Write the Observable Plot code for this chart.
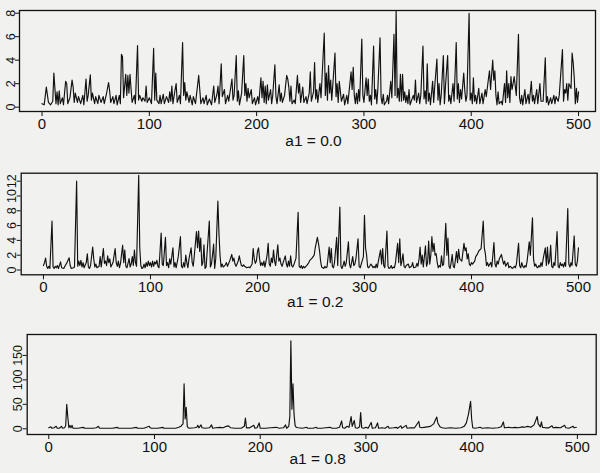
<!DOCTYPE html>
<html>
<head>
<meta charset="utf-8">
<script src="https://cdn.jsdelivr.net/npm/d3@7"></script>
<script src="https://cdn.jsdelivr.net/npm/@observablehq/plot@0.6"></script>
<style>
  html, body { margin: 0; padding: 0; background: #f1f1f0; }
  #chart { width: 600px; height: 473px; overflow: hidden; }
  #chart svg { display: block; background: transparent; }
</style>
</head>
<body>
<div id="chart"></div>
<script>
// ---- data: [t, value] ----
const titles = ["a1 = 0.0", "a1 = 0.2", "a1 = 0.8"];
const xTicks = [0, 100, 200, 300, 400, 500];
const yTicks1 = [0, 2, 4, 6, 8];
const yTicks2 = [0, 2, 4, 6, 8, 10, 12];
const yTicks3 = [0, 50, 100, 150];

const series1 = [[0,0.3],[2,0.2],[4,1.7],[6,0.4],[8,0.2],[10,0.5],[11,2.9],[13,0.3],[14,1.3],[15,0.2],[16,1.4],[17,0.3],[19,0.8],[20,0.2],[22,2.2],[23,2.0],[24,0.3],[26,0.8],[28,2.3],[29,1.7],[30,0.4],[31,1.2],[33,0.4],[34,0.9],[36,0.3],[38,1.0],[39,0.2],[41,2.4],[42,0.5],[43,1.0],[45,2.75],[46,0.6],[47,1.2],[49,0.3],[50,0.9],[52,0.3],[53,1.0],[55,0.4],[57,0.9],[58,0.3],[60,1.1],[62,2.1],[63,1.4],[64,0.4],[66,0.9],[67,0.3],[69,1.0],[70,0.2],[72,1.0],[73,0.3],[74,4.5],[75,4.3],[76,0.8],
[78,2.8],[79,1.0],[80,2.7],[81,1.2],[82,2.8],[83,1.5],[84,0.4],[86,1.0],[87,0.3],[89,5.25],[90,0.6],[91,1.0],[93,0.5],[94,0.8],[96,0.5],[97,1.8],[98,0.4],[100,0.8],[102,0.3],[104,5.0],[105,0.6],[106,2.9],[107,0.6],[109,0.3],[110,1.0],[111,0.3],[113,1.1],[114,0.3],[116,0.9],[118,0.4],[119,1.3],[120,0.5],[121,1.8],[122,0.3],[124,1.5],[125,2.0],[126,0.4],[128,1.0],[129,0.3],[131,5.5],[132,1.0],[133,2.1],[134,0.6],[135,1.3],[137,0.4],[138,1.0],[140,0.2],[141,0.9],[143,0.3],
[146,2.7],[148,0.3],[150,0.8],[151,0.3],[153,1.0],[154,0.2],[156,0.7],[158,0.2],[160,1.8],[161,0.4],[163,1.1],[164,1.8],[165,0.3],[167,3.7],[168,0.9],[170,1.5],[171,0.3],[173,1.0],[174,0.5],[177,2.4],[178,0.6],[179,1.0],[181,4.4],[182,0.5],[183,1.4],[184,0.2],[186,1.2],[188,4.4],[189,1.0],[190,2.0],[191,0.5],[192,1.6],[193,0.8],[195,1.5],[196,0.3],[198,0.8],[199,0.2],[201,0.9],[202,0.3],[204,2.5],[205,0.8],[206,2.2],[207,0.4],[208,1.8],[209,0.3],[210,1.9],[211,0.6],
[213,1.5],[214,0.3],[215,1.0],[217,3.6],[218,0.9],[219,0.3],[221,1.9],[222,0.5],[223,1.2],[224,0.4],[226,1.0],[228,2.7],[229,2.4],[230,1.7],[231,0.5],[232,1.8],[233,0.3],[235,0.6],[236,0.3],[238,2.7],[239,1.2],[240,2.0],[241,0.4],[243,1.7],[244,0.4],[246,0.9],[247,0.3],[249,1.2],[250,3.0],[251,0.5],[253,1.3],[254,3.8],[255,0.7],[256,1.5],[257,0.4],[259,2.0],[260,0.8],[263,6.3],[264,1.0],[265,2.9],[266,0.6],[267,3.55],[268,1.2],[269,2.3],[270,0.6],[271,1.9],[273,4.6],[274,0.9],[275,2.0],[276,0.4],[277,2.2],
[279,0.5],[281,1.1],[282,0.2],[284,1.0],[285,0.3],[287,2.1],[288,3.0],[289,1.5],[290,3.4],[291,1.0],[292,0.3],[293,1.2],[294,0.3],[295,1.5],[296,0.5],[298,5.8],[299,1.0],[300,0.4],[302,2.5],[303,1.0],[304,2.4],[305,0.5],[306,1.0],[307,0.2],[309,5.2],[310,0.7],[311,1.5],[312,0.3],[313,1.6],[315,5.9],[316,0.8],[317,0.3],[318,1.1],[319,0.2],[321,0.5],[322,1.0],[323,0.3],[325,2.2],[326,0.8],[328,6.2],[329,1.0],[330,8.2],[331,0.8],[332,1.6],[333,0.5],[334,2.8],[335,0.5],[336,2.8],[337,0.6],[338,1.3],[339,0.4],[340,1.0],[341,0.3],[342,1.5],[343,0.2],
[346,1.0],[347,0.6],[348,2.3],[349,0.4],[351,1.2],[352,0.3],[353,1.0],[355,5.2],[356,0.7],[357,1.4],[358,0.3],[359,3.7],[360,0.5],[361,1.2],[362,0.2],[364,2.2],[365,0.4],[366,1.8],[368,4.1],[369,0.6],[370,2.0],[371,0.2],[372,1.0],[374,4.4],[375,0.3],[376,1.8],[378,4.4],[379,0.5],[380,1.0],[381,0.3],[383,2.0],[384,0.5],[386,5.5],[387,0.7],[388,2.0],[389,0.4],[390,1.5],[391,0.7],[393,2.9],[394,1.4],[395,0.5],[396,1.0],[398,8.0],[399,0.6],[400,1.2],[401,0.3],[402,2.5],[403,0.5],[404,1.0],[405,0.3],[407,1.6],[408,0.3],[410,1.2],
[411,0.3],[413,1.5],[414,0.9],[416,2.4],[417,3.1],[418,1.5],[420,4.0],[421,2.3],[422,3.1],[423,1.0],[424,0.2],[425,1.3],[426,0.3],[428,0.5],[429,0.2],[431,2.0],[432,0.4],[433,3.1],[434,0.8],[435,2.0],[436,0.4],[437,2.6],[438,1.5],[439,2.0],[440,2.6],[442,1.0],[444,6.2],[445,0.8],[446,0.3],[447,1.0],[448,0.2],[450,1.5],[451,0.3],[453,1.1],[454,0.3],[456,2.2],[457,0.5],[458,1.0],[459,0.3],[461,1.5],[462,0.3],[464,2.0],[465,0.5],[467,0.5],[469,4.2],[470,0.4],[471,0.9],[472,0.2],[474,0.8],[475,0.3],[477,1.0],
[478,0.3],[479,0.9],[481,0.5],[482,1.0],[485,4.9],[486,0.5],[487,1.5],[488,1.2],[489,2.0],[490,0.6],[491,2.0],[492,1.8],[493,1.6],[494,4.6],[495,3.8],[496,2.5],[497,0.3],[498,1.6],[499,0.4],[500,1.3]];

const series2 = [[0,0.6],[1,1.0],[2,1.6],[3,0.5],[4,0.2],[5,0.5],[6,0.2],[8,6.6],[9,0.4],[10,0.2],[11,0.5],[12,0.3],[13,0.6],[14,0.2],[16,1.1],[17,0.3],[19,0.2],[20,0.5],[22,1.0],[24,1.65],[25,0.6],[26,0.2],[28,0.3],[29,0.4],[31,12.0],[32,0.5],[33,1.2],[34,0.6],[35,1.3],[36,0.4],[37,1.0],[38,0.3],[40,1.0],[41,2.2],[42,0.4],[43,0.2],[44,0.6],[46,3.1],[47,1.5],[48,0.4],[49,0.8],[50,0.3],[52,0.5],[53,1.8],[54,0.4],[56,2.9],[57,0.9],[58,1.2],[59,0.6],[60,1.9],[61,1.0],[62,1.5],[63,0.4],[65,1.0],[67,2.9],[68,1.0],[69,0.5],[70,1.2],[71,0.3],[72,0.9],[74,3.35],[75,1.0],[76,2.7],[77,0.5],[78,0.3],[79,0.9],[80,1.55],[81,0.4],[82,0.8],[83,1.8],[84,0.6],[85,2.7],[86,1.0],[87,0.5],[89,12.8],[90,3.0],[91,0.6],[92,0.2],[93,0.3],[94,0.8],[95,0.3],[96,1.0],[97,0.5],[98,1.2],[99,0.6],[100,1.0],[101,0.4],[102,1.2],[103,0.5],[104,1.1],[105,0.8],[106,1.3],[107,0.5],[108,0.3],[110,5.0],[111,0.8],[112,0.6],[114,4.4],[115,0.6],[116,1.0],[117,0.3],[118,1.5],[119,0.8],[121,3.0],[122,0.4],[123,1.0],[124,0.3],[126,1.8],[128,4.5],[129,0.5],[130,0.3],[131,1.0],[132,0.4],[133,2.0],[134,1.0],[135,0.3],[136,1.5],[138,3.0],[139,1.0],[140,0.5],[141,2.0],[143,5.2],[144,3.0],[145,5.25],[146,2.5],[147,4.3],[148,0.6],[149,1.0],[150,3.4],[151,0.2],[152,0.4],[153,2.5],[155,6.6],[156,0.4],[157,0.8],[158,2.0],[159,3.5],[160,0.2],[161,1.5],[163,9.3],[164,5.0],[165,2.0],[166,0.4],[167,0.8],[168,0.4],[170,0.7],[171,1.0],[172,0.5],[174,1.2],[176,2.1],[177,1.2],[178,1.6],[179,0.8],[180,0.5],[182,1.2],[183,1.9],[184,1.2],[185,0.6],[186,0.5],[187,0.7],[188,0.5],[190,0.3],[192,0.4],[193,0.3],[195,0.8],[196,2.9],[197,1.5],[198,0.9],[199,1.2],[200,2.5],[201,3.0],[202,1.5],[203,0.6],[204,1.0],[205,0.6],[206,1.2],[207,0.4],[209,2.0],[210,3.6],[211,0.8],[212,0.5],[213,1.6],[214,1.0],[215,2.7],[216,1.2],[217,0.6],[219,3.4],[220,1.2],[221,1.6],[222,0.8],[223,0.5],[224,1.0],[226,1.9],[227,0.8],[228,0.4],[229,1.2],[230,0.5],[231,1.9],[232,0.6],[233,0.4],[234,0.7],[236,1.6],[238,7.8],[239,0.5],[240,0.3],[241,0.6],[242,0.2],[243,0.5],[244,0.3],[246,0.6],[247,0.8],[248,1.0],[249,1.3],[251,1.6],[253,2.0],[254,3.0],[256,4.4],[257,3.6],[258,2.6],[259,1.2],[260,0.4],[261,0.3],[262,0.2],[263,0.5],[264,0.3],[265,0.4],[267,3.1],[268,1.0],[269,2.9],[270,0.5],[271,0.3],[272,1.0],[274,4.4],[275,0.6],[277,8.5],[278,0.5],[279,0.2],[280,0.6],[281,1.2],[282,0.5],[283,1.0],[285,3.8],[286,0.8],[287,0.3],[288,1.0],[289,1.8],[290,0.6],[291,0.8],[292,1.5],[294,4.2],[295,0.5],[296,0.3],[297,0.8],[299,1.8],[300,7.4],[301,3.0],[302,2.0],[303,0.4],[304,0.3],[306,0.8],[307,0.6],[308,0.3],[309,0.5],[310,0.3],[311,0.8],[312,0.3],[313,1.2],[315,2.7],[316,0.8],[317,2.9],[318,0.6],[319,0.3],[321,5.25],[322,0.5],[323,0.2],[324,0.3],[325,0.6],[326,0.2],[327,0.4],[328,0.3],[329,1.0],[331,3.6],[332,1.0],[333,4.2],[334,0.6],[335,1.2],[336,2.2],[337,0.5],[338,0.3],[339,0.6],[341,0.8],[342,0.3],[344,0.5],[345,1.0],[346,0.3],[348,0.4],[349,0.9],[350,0.5],[351,1.5],[352,3.1],[353,0.8],[354,2.0],[355,0.4],[357,3.25],[358,0.5],[359,1.0],[360,3.9],[361,0.8],[362,2.0],[363,4.5],[364,2.5],[365,3.6],[366,2.0],[367,2.2],[368,1.0],[369,0.3],[370,0.6],[371,0.4],[372,1.9],[373,0.6],[374,0.8],[376,6.3],[377,2.0],[378,4.3],[379,0.5],[380,0.2],[381,1.0],[382,2.1],[383,0.5],[384,0.3],[386,2.5],[387,1.0],[388,2.8],[389,1.5],[391,1.2],[393,3.6],[394,2.6],[395,3.0],[396,1.5],[397,2.2],[398,0.8],[399,0.6],[400,1.0],[401,0.8],[403,1.2],[404,1.8],[405,2.0],[406,2.3],[407,2.6],[409,2.9],[411,6.6],[412,3.0],[413,2.2],[414,0.6],[415,1.0],[416,0.5],[418,1.0],[419,0.4],[421,3.7],[422,0.8],[423,0.4],[424,1.2],[425,0.8],[426,1.5],[428,2.1],[429,1.4],[430,0.8],[431,1.2],[432,0.5],[433,0.8],[434,1.0],[435,0.3],[436,0.5],[437,0.4],[438,0.2],[439,0.3],[440,0.5],[441,0.3],[442,0.8],[444,3.6],[445,0.6],[446,0.3],[447,1.0],[448,0.5],[449,0.3],[450,0.6],[451,0.4],[452,1.2],[454,3.8],[455,2.0],[457,7.05],[458,1.5],[459,0.5],[460,0.8],[461,0.4],[462,0.3],[463,0.6],[464,0.4],[465,1.0],[466,0.5],[467,1.5],[469,3.0],[470,0.6],[471,3.1],[472,0.8],[473,1.2],[474,3.35],[475,0.5],[476,0.3],[477,1.0],[478,0.6],[480,5.2],[481,0.5],[482,0.3],[483,1.0],[484,0.6],[485,0.8],[486,0.4],[487,1.0],[488,0.5],[490,8.3],[491,0.8],[492,0.4],[493,1.0],[494,0.6],[496,4.6],[497,0.8],[498,0.5],[499,1.2],[500,3.0]];

const series3 = [[0,2],[2,4],[3,1],[5,2],[7,5],[8,1],[10,1],[12,5],[13,1],[15,2],[16,6],[17,50],[18,24],[19,2],[20,7],[21,2],[22,7],[23,1],[25,1],[28,1],[30,2],[33,3],[34,1],[38,1],[42,1],[45,2],[47,5],[48,1],[55,1],[60,1],[65,3],[66,1],[72,1],[78,1],[83,3],[84,1],[90,1],[95,5],[96,2],[97,1],[103,1],[108,3],[109,1],[115,1],[120,1],[123,3],[125,5],[126,8],[127,10],[128,92],[129,20],[130,44],[131,5],[132,2],[133,1],[138,2],[140,3],[141,7],[142,2],[144,8],[145,2],[148,1],[152,2],[154,8],[155,1],[158,2],[162,3],[165,2],[168,5],[170,6],[172,2],[176,1],[182,1],[185,5],[186,22],[187,2],[190,2],[194,7],[195,1],[197,2],[199,12],[200,1],[205,1],[210,2],[215,3],[218,1],[222,2],[224,8],[225,1],[227,5],[228,25],[229,180],[230,40],[231,92],[232,30],[233,7],[234,3],[236,2],[240,1],[244,3],[245,1],[250,1],[253,3],[254,1],[258,1],[262,2],[266,3],[268,1],[272,1],[275,3],[277,16],[278,2],[280,1],[282,5],[284,3],[286,25],[287,5],[289,17],[290,2],[292,1],[294,4],[295,33],[296,2],[298,1],[300,3],[302,1],[305,13],[306,1],[309,2],[311,12],[312,1],[315,2],[318,1],[321,5],[322,1],[326,2],[329,3],[330,1],[333,6],[334,1],[338,7],[339,1],[342,2],[346,2],[350,15],[351,3],[353,2],[355,3],[358,4],[361,5],[364,10],[367,24],[368,12],[370,4],[372,2],[375,1],[380,2],[385,1],[390,2],[393,5],[395,12],[397,30],[399,56],[400,20],[401,2],[403,1],[406,2],[408,3],[410,1],[415,2],[420,1],[425,2],[428,4],[430,14],[431,2],[435,3],[438,2],[441,3],[444,2],[448,4],[450,3],[453,5],[456,3],[459,8],[462,25],[463,10],[465,4],[466,14],[467,3],[470,2],[473,2],[476,6],[477,2],[480,3],[484,2],[488,7],[489,2],[492,1],[496,5],[497,2],[499,3]];

// ---- drawing ----
const font = "'Liberation Sans', Arial, Helvetica, sans-serif";
function panel(data, title, yTicks, o) {
  return Plot.plot({
    width: 600,
    height: o.height,
    marginLeft: o.ml, marginRight: o.mr, marginTop: o.mt, marginBottom: o.mb,
    style: {fontFamily: font, background: "transparent", color: "#111"},
    x: {domain: o.xd},
    y: {domain: o.yd},
    marks: [
      Plot.line(data, {x: d => d[0], y: d => d[1], stroke: "#111", strokeWidth: 1.15}),
      Plot.frame({stroke: "#111", strokeWidth: 1.3}),
      Plot.axisX({ticks: xTicks, tickSize: 5, tickPadding: 2, fontSize: 15, label: null, stroke: "#111"}),
      Plot.axisY({ticks: yTicks, tickSize: 4, tickPadding: 1, tickRotate: -90, fontSize: 12.5, label: null, stroke: "#111"}),
      Plot.text([title], {frameAnchor: "bottom", dx: 6, dy: o.tdy, text: d => d, fontSize: 15.5, fill: "#111"})
    ]
  });
}

const chart = document.getElementById("chart");
chart.append(panel(series1, titles[0], yTicks1, {height: 160, ml: 19, mr: 5, mt: 10, mb: 49, xd: [-21, 515.8], yd: [-0.37, 8.23], tdy: 34}));
chart.append(panel(series2, titles[1], yTicks2, {height: 160, ml: 20.7, mr: 3.3, mt: 12.7, mb: 45.7, xd: [-20.8, 517.5], yd: [-0.65, 13.08], tdy: 32}));
chart.append(panel(series3, titles[2], yTicks3, {height: 153, ml: 26.7, mr: 4.3, mt: 14, mb: 39, xd: [-20.4, 517.8], yd: [-11.7, 192.8], tdy: 29}));
</script>
</body>
</html>
